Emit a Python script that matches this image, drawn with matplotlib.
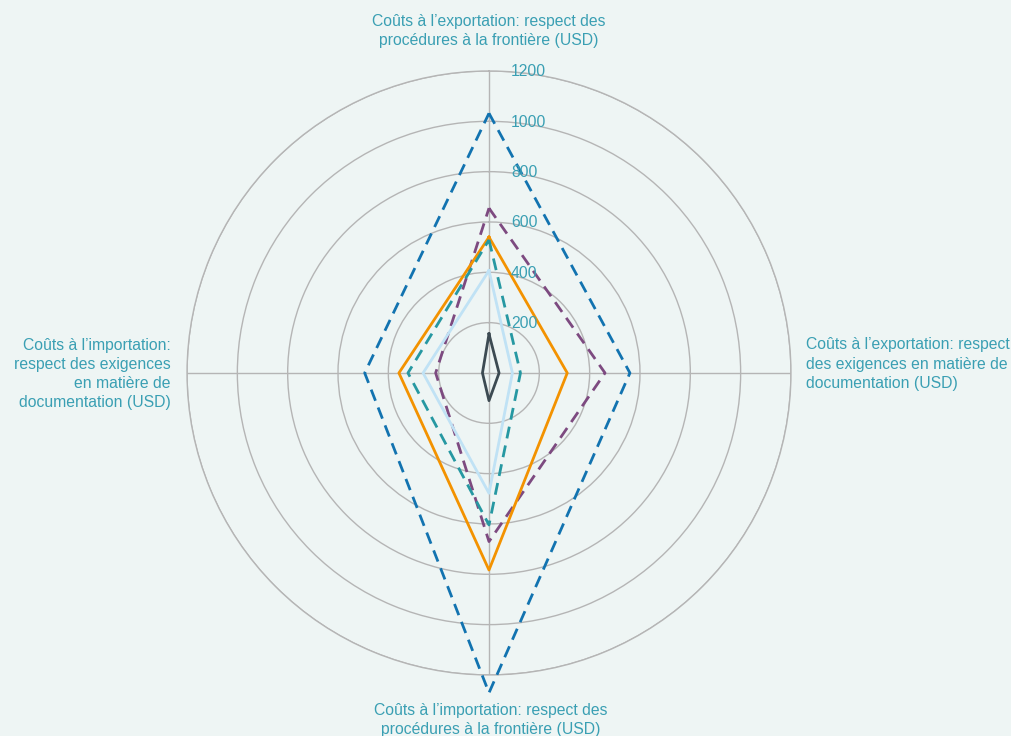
import numpy as np
import matplotlib
matplotlib.use("Agg")
import matplotlib.pyplot as plt
from matplotlib.transforms import offset_copy

plt.rcParams['font.family'] = ['Liberation Sans', 'DejaVu Sans']

categories = [
    "Coûts à l’exportation: respect des\nprocédures à la frontière (USD)",
    "Coûts à l’exportation: respect\ndes exigences en matière de\ndocumentation (USD)",
    "Coûts à l’importation: respect des\nprocédures à la frontière (USD)",
    "Coûts à l’importation:\nrespect des exigences\nen matière de\ndocumentation (USD)",
]
# values per series: [export border, export doc, import border, import doc]
series_darkblue = [1032, 560, 1271, 494]
series_purple = [655, 461, 670, 212]
series_orange = [540, 311, 783, 358]
series_teal = [529, 125, 604, 322]
series_lightblue = [407, 93, 478, 262]
series_darkgray = [155, 40, 110, 26]
r_ticks = [200, 400, 600, 800, 1000, 1200]

bg = "#eef5f4"
txt = "#3a9fb3"
grid = "#b5b5b5"

styles = [
    (series_darkblue, "#1273b0", "--"),
    (series_purple, "#7d4a80", "--"),
    (series_orange, "#f39200", "-"),
    (series_teal, "#2698a2", "--"),
    (series_lightblue, "#c0e2f5", "-"),
    (series_darkgray, "#3c4a52", "-"),
]

fig = plt.figure(figsize=(10.12, 7.36), dpi=100, facecolor=bg)
ax = fig.add_axes([0.1848, 0.0829, 0.5968, 0.8207], projection="polar", facecolor=bg)
ax.set_theta_zero_location("N")
ax.set_theta_direction(-1)

angles = np.arange(len(categories)) * 2 * np.pi / len(categories)
angles_closed = np.append(angles, angles[0])

for vals, col, ls in styles:
    v = np.append(vals, vals[0])
    line, = ax.plot(angles_closed, v, color=col, linestyle=ls, linewidth=2.0, clip_on=False, zorder=3)
    if ls == "--":
        line.set_dashes((4.3, 2.6))

ax.set_ylim(0, 1200)
ax.set_yticks(r_ticks)
ax.set_yticklabels([])
ax.set_xticks(angles)
ax.set_xticklabels([])
ax.grid(True, color=grid, linewidth=1.0)
ax.spines['polar'].set_color(grid)
ax.spines['polar'].set_linewidth(1.0)
ax.tick_params(length=0)

tr = offset_copy(ax.transData, fig=fig, x=22, y=-1, units='dots')
for r in r_ticks:
    ax.text(0, r, str(r), transform=tr, ha="left", va="center", color=txt, fontsize=11.3, zorder=4)

fs = 11.3
ls_ = 1.36
fig.text(489/1012, 1 - 31/736, categories[0], ha="center", va="center", color=txt, fontsize=fs, linespacing=ls_)
fig.text(806/1012, 1 - 364/736, categories[1], ha="left", va="center", color=txt, fontsize=fs, linespacing=ls_)
fig.text(491/1012, 1 - 720/736, categories[2], ha="center", va="center", color=txt, fontsize=fs, linespacing=ls_)
fig.text(171/1012, 1 - 374/736, categories[3], ha="right", va="center", color=txt, fontsize=fs, linespacing=ls_, multialignment="right")

fig.savefig("out.png", dpi=100, facecolor=bg)
